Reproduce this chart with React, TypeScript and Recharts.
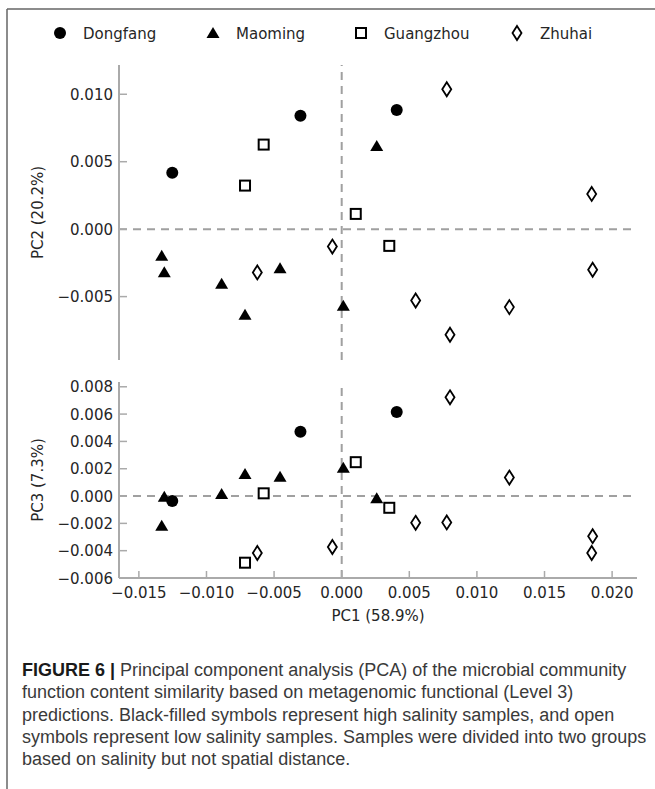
import React from 'react';
import { ScatterChart, Scatter, XAxis, YAxis, ReferenceLine, Legend } from 'recharts';

// sample groups, in legend order
const sites = ['Dongfang', 'Maoming', 'Guangzhou', 'Zhuhai'];
const markers = ['circle', 'triangle', 'square', 'diamond'];

const dongfangPC1 = [-0.01253, -0.00305, 0.00407];
const dongfangPC2 = [0.00419, 0.00841, 0.00884];
const dongfangPC3 = [-0.00037, 0.00471, 0.00615];

const maomingPC1 = [-0.01331, -0.01312, -0.00888, -0.00715, -0.00456, 0.00012, 0.00259];
const maomingPC2 = [-0.00198, -0.00319, -0.00405, -0.00635, -0.00289, -0.00568, 0.00617];
const maomingPC3 = [-0.00218, -0.00005, 0.00015, 0.00162, 0.00142, 0.00208, -0.00017];

const guangzhouPC1 = [-0.00715, -0.00577, 0.00104, 0.00352];
const guangzhouPC2 = [0.00323, 0.00627, 0.00113, -0.00124];
const guangzhouPC3 = [-0.00488, 0.0002, 0.00248, -0.00086];

const zhuhaiPC1 = [-0.00624, -0.00069, 0.00547, 0.00777, 0.00801, 0.0124, 0.01849, 0.01856];
const zhuhaiPC2 = [-0.00321, -0.00129, -0.00529, 0.01037, -0.00783, -0.00578, 0.00261, -0.00301];
const zhuhaiPC3 = [-0.00417, -0.00373, -0.00196, -0.00193, 0.00723, 0.00135, -0.00417, -0.00294];

const pc1Ticks = [-0.015, -0.01, -0.005, 0, 0.005, 0.01, 0.015, 0.02];
const pc2Ticks = [-0.005, 0, 0.005, 0.01];
const pc3Ticks = [-0.006, -0.004, -0.002, 0, 0.002, 0.004, 0.006, 0.008];

const pc1Domain = [-0.01647, 0.02184];
const pc2Domain = [-0.0097, 0.01217];
const pc3Domain = [-0.006, 0.00835];

const captionLines = [
  'Principal component analysis (PCA) of the microbial community',
  'function content similarity based on metagenomic functional (Level 3)',
  'predictions. Black-filled symbols represent high salinity samples, and open',
  'symbols represent low salinity samples. Samples were divided into two groups',
  'based on salinity but not spatial distance.',
];

const pc1 = [dongfangPC1, maomingPC1, guangzhouPC1, zhuhaiPC1];
const pc2 = [dongfangPC2, maomingPC2, guangzhouPC2, zhuhaiPC2];
const pc3 = [dongfangPC3, maomingPC3, guangzhouPC3, zhuhaiPC3];

const toPoints = (xs: number[], ys: number[]) => xs.map((x, i) => ({ x, y: ys[i] }));

const FONT = '"DejaVu Sans", sans-serif';
const AXIS = '#aaaaaa';
const DASH = '#a0a0a0';
const INK = '#262626';

const fmt = (v: number) => {
  const s = Math.abs(v).toFixed(3);
  return v < -1e-9 ? '\u2212' + s : s;
};

function drawMarker(kind: string, cx: number, cy: number) {
  switch (kind) {
    case 'circle':
      return <circle cx={cx} cy={cy} r={6} fill="#000" />;
    case 'triangle':
      return <polygon points={`${cx},${cy - 6} ${cx - 6.5},${cy + 5} ${cx + 6.5},${cy + 5}`} fill="#000" />;
    case 'square':
      return <rect x={cx - 5} y={cy - 5} width={10} height={10} fill="#fff" stroke="#000" strokeWidth={2} />;
    default:
      return (
        <polygon
          points={`${cx},${cy - 7} ${cx + 4.5},${cy} ${cx},${cy + 7} ${cx - 4.5},${cy}`}
          fill="#fff"
          stroke="#000"
          strokeWidth={1.8}
        />
      );
  }
}

const XTick = (props: any, showLabel: boolean) => {
  const { x, y, payload } = props;
  return (
    <g>
      <line x1={x} x2={x} y1={y} y2={y - 7} stroke={AXIS} strokeWidth={1.5} />
      {showLabel && (
        <text x={x} y={y + 19.5} textAnchor="middle" fontFamily={FONT} fontSize={15} fill={INK}>
          {fmt(payload.value)}
        </text>
      )}
    </g>
  );
};

const YTick = (props: any) => {
  const { x, y, payload } = props;
  return (
    <g>
      <line x1={x} x2={x + 8} y1={y} y2={y} stroke={AXIS} strokeWidth={1.5} />
      <text x={x - 6} y={y + 5.5} textAnchor="end" fontFamily={FONT} fontSize={15} fill={INK}>
        {fmt(payload.value)}
      </text>
    </g>
  );
};

const yTitle = (text: string) => (props: any) => {
  const vb = props.viewBox || {};
  const cy = vb.y + vb.height / 2;
  return (
    <text
      x={42.5}
      y={cy}
      transform={`rotate(-90, 42.5, ${cy})`}
      textAnchor="middle"
      fontFamily={FONT}
      fontSize={15}
      fill={INK}
    >
      {text}
    </text>
  );
};

const xTitle = (text: string) => (props: any) => {
  const vb = props.viewBox || {};
  return (
    <text x={vb.x + vb.width / 2} y={vb.y + 43} textAnchor="middle" fontFamily={FONT} fontSize={15} fill={INK}>
      {text}
    </text>
  );
};

const LEGEND_X = [60, 213, 361, 517];

const LegendBox = () => (
  <svg width={655} height={60}>
    {sites.map((s, i) => (
      <g key={s}>
        {drawMarker(markers[i], LEGEND_X[i], 33)}
        <text x={LEGEND_X[i] + 23} y={38.5} fontFamily={FONT} fontSize={15} fill={INK}>
          {s}
        </text>
      </g>
    ))}
  </svg>
);

interface PanelProps {
  ys: number[][];
  yDomain: number[];
  yTicks: number[];
  yLabel: string;
  height: number;
  margin: { top: number; right: number; bottom: number; left: number };
  xAxisHeight: number;
  bottom: boolean;
}

function Panel({ ys, yDomain, yTicks, yLabel, height, margin, xAxisHeight, bottom }: PanelProps) {
  return (
    <ScatterChart width={655} height={height} margin={margin}>
      <XAxis
        type="number"
        dataKey="x"
        domain={pc1Domain}
        ticks={pc1Ticks}
        interval={0}
        allowDataOverflow
        height={xAxisHeight}
        tickSize={0}
        tickMargin={0}
        tickLine={false}
        axisLine={{ stroke: AXIS, strokeWidth: 2 }}
        tick={(p: any) => XTick(p, bottom)}
        label={bottom ? { content: xTitle('PC1 (58.9%)') } : undefined}
      />
      <YAxis
        type="number"
        dataKey="y"
        domain={yDomain}
        ticks={yTicks}
        interval={0}
        allowDataOverflow
        width={119}
        tickSize={0}
        tickMargin={0}
        tickLine={false}
        axisLine={{ stroke: AXIS, strokeWidth: 2 }}
        tick={YTick}
        label={{ content: yTitle(yLabel) }}
      />
      <ReferenceLine x={0} stroke={DASH} strokeWidth={2} strokeDasharray="8 6" />
      <ReferenceLine y={0} stroke={DASH} strokeWidth={2} strokeDasharray="8 6" />
      {!bottom && (
        <Legend
          layout="vertical"
          align="center"
          verticalAlign="middle"
          wrapperStyle={{ top: 0, left: 0, width: 655, height: 60 }}
          content={() => <LegendBox />}
        />
      )}
      {sites.map((s, i) => (
        <Scatter
          key={s}
          name={s}
          data={toPoints(pc1[i], ys[i])}
          isAnimationActive={false}
          shape={(p: any) => drawMarker(markers[i], p.cx, p.cy)}
        />
      ))}
    </ScatterChart>
  );
}

export default function App() {
  return (
    <div style={{ position: 'absolute', left: 0, top: 0, width: 655, height: 789, background: '#fff', overflow: 'hidden' }}>
      <svg width={655} height={789} style={{ position: 'absolute', left: 0, top: 0 }}>
        <line x1={7} x2={655} y1={9} y2={9} stroke="#666" strokeWidth={1.5} />
        <line x1={7} x2={7} y1={9} y2={789} stroke="#666" strokeWidth={1.5} />
      </svg>
      <div style={{ position: 'absolute', left: 0, top: 0 }}>
        <Panel
          ys={pc2}
          yDomain={pc2Domain}
          yTicks={pc2Ticks}
          yLabel="PC2 (20.2%)"
          height={380}
          margin={{ top: 65, right: 18, bottom: 20, left: 0 }}
          xAxisHeight={0}
          bottom={false}
        />
      </div>
      <div style={{ position: 'absolute', left: 0, top: 370 }}>
        <Panel
          ys={pc3}
          yDomain={pc3Domain}
          yTicks={pc3Ticks}
          yLabel="PC3 (7.3%)"
          height={260}
          margin={{ top: 12, right: 18, bottom: 0, left: 0 }}
          xAxisHeight={52}
          bottom
        />
      </div>
      <div
        style={{
          position: 'absolute',
          left: 22,
          top: 659,
          fontFamily: '"Liberation Sans", Arial, sans-serif',
          fontSize: 18,
          lineHeight: '22.3px',
          color: '#3a3a3a',
          whiteSpace: 'nowrap',
        }}
      >
        {captionLines.map((line, i) => (
          <div key={i}>
            {i === 0 && <b style={{ color: '#1a1a1a' }}>FIGURE 6 | </b>}
            {line}
          </div>
        ))}
      </div>
    </div>
  );
}
